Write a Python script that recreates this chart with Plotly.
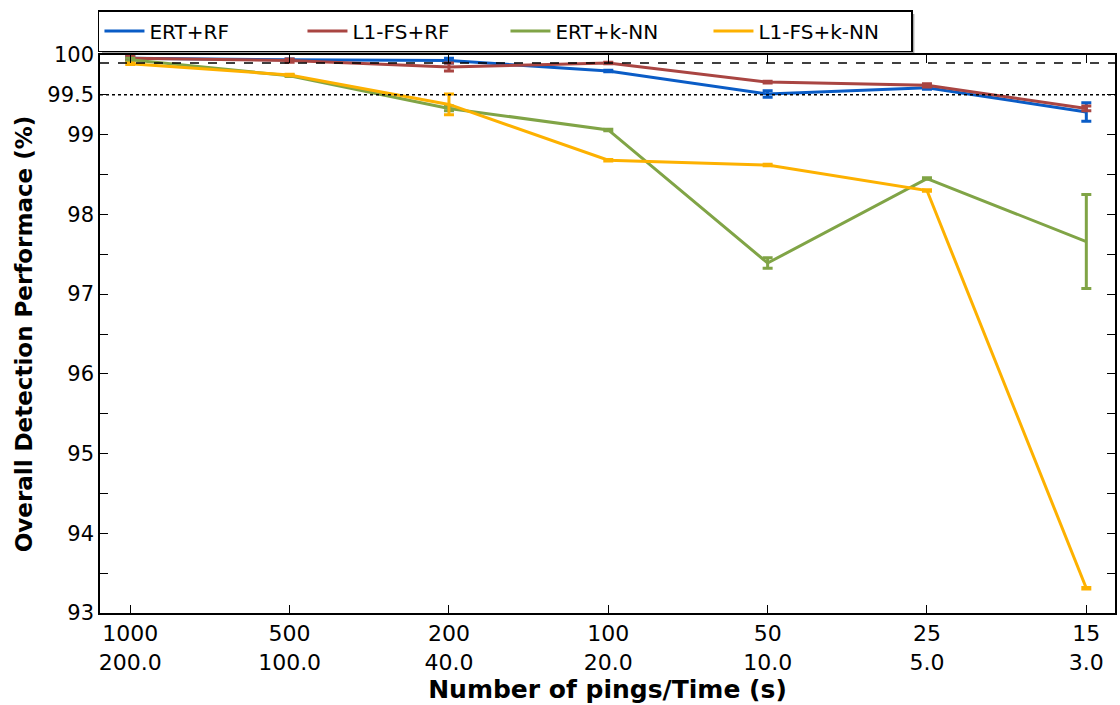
import plotly.graph_objects as go

pings = ["1000", "500", "200", "100", "50", "25", "15"]
times = ["200.0", "100.0", "40.0", "20.0", "10.0", "5.0", "3.0"]

series_names = ["ERT+RF", "L1-FS+RF", "ERT+k-NN", "L1-FS+k-NN"]
ert_rf = [99.96, 99.94, 99.93, 99.80, 99.51, 99.59, 99.285]
ert_rf_err = [0.02, 0.01, 0.03, 0.01, 0.04, 0.02, 0.115]
l1_rf = [99.96, 99.93, 99.85, 99.90, 99.66, 99.62, 99.33]
l1_rf_err = [0.02, 0.02, 0.05, 0.01, 0.01, 0.02, 0.03]
ert_knn = [99.94, 99.74, 99.33, 99.06, 97.39, 98.45, 97.66]
ert_knn_err = [0.02, 0.01, 0.03, 0.01, 0.065, 0.01, 0.59]
l1_knn = [99.89, 99.75, 99.38, 98.68, 98.62, 98.30, 93.31]
l1_knn_err = [0.01, 0.01, 0.13, 0.01, 0.01, 0.01, 0.01]

colors = ["#0a5cc6", "#a94542", "#80a446", "#fdb100"]
values = [ert_rf, l1_rf, ert_knn, l1_knn]
errors = [ert_rf_err, l1_rf_err, ert_knn_err, l1_knn_err]

x_idx = list(range(len(pings)))
fig = go.Figure()
for name, vals, errs, col in zip(series_names, values, errors, colors):
    fig.add_trace(go.Scatter(
        x=x_idx, y=vals, name=name, mode="lines",
        line=dict(color=col, width=3),
        error_y=dict(type="data", array=errs, visible=True, color=col, thickness=3, width=5),
    ))

# reference lines
fig.add_hline(y=99.9, line=dict(color="black", width=1.5, dash="dash"))
fig.add_hline(y=99.5, line=dict(color="black", width=1.5, dash="dot"))

ytick_vals = [93 + 0.5 * i for i in range(15)]
ytick_text = []
for v in ytick_vals:
    if v == int(v):
        ytick_text.append(str(int(v)))
    elif v == 99.5:
        ytick_text.append("99.5")
    else:
        ytick_text.append("")

# legend shadow
fig.add_shape(type="rect", xref="paper", yref="paper",
              x0=(102 - 100) / 1017, x1=(916 - 100) / 1017,
              y0=(613 - 53) / 558, y1=(613 - 14) / 558,
              fillcolor="#a8a8a8", line=dict(width=0), layer="below")

fig.update_layout(
    width=1120, height=705,
    margin=dict(l=100, r=3, t=55, b=92),
    plot_bgcolor="white", paper_bgcolor="white",
    font=dict(family="DejaVu Sans", size=20, color="black"),
    showlegend=True,
    legend=dict(orientation="h", x=-0.002, xanchor="left", y=(613 - 10) / 558, yanchor="top",
                bgcolor="white", bordercolor="black", borderwidth=1.5,
                font=dict(size=20), entrywidth=148, entrywidthmode="pixels",
                itemwidth=40),
    xaxis=dict(
        range=[-0.19, 6.18], tickvals=x_idx,
        ticktext=[f"{p}<br>{t}" for p, t in zip(pings, times)],
        ticks="inside", ticklen=8, tickcolor="black", mirror="ticks",
        showline=True, linecolor="black", linewidth=1.5, showgrid=False, zeroline=False,
        tickfont=dict(size=22),
        title=dict(text="<b>Number of pings/Time (s)</b>", standoff=6,
                   font=dict(size=25)),
    ),
    yaxis=dict(
        range=[93, 100], tickvals=ytick_vals, ticktext=ytick_text,
        ticks="inside", ticklen=8, tickcolor="black", mirror="ticks",
        showline=True, linecolor="black", linewidth=1.5, showgrid=False, zeroline=False,
        tickfont=dict(size=21),
        title=dict(text="<b>Overall Detection Performace (%)</b>", standoff=8,
                   font=dict(size=23)),
    ),
)

fig.write_html("out.html")
